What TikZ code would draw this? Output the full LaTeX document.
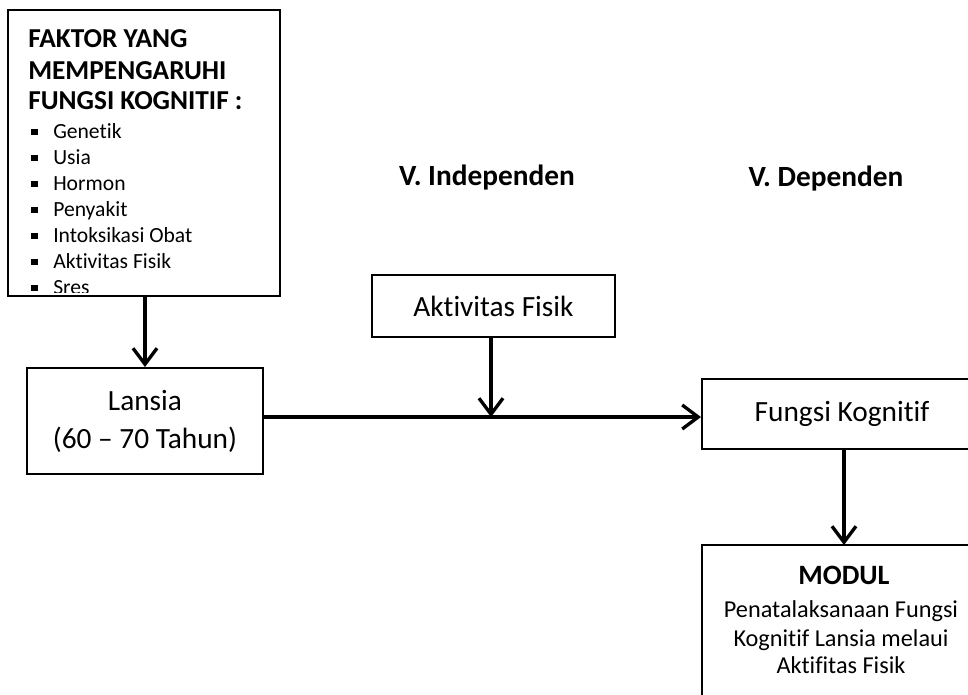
\documentclass[tikz,border=0pt]{standalone}
\usepackage{fontspec}
\setmainfont{Carlito}[Ligatures={NoCommon}]
\usetikzlibrary{arrows.meta}
\begin{document}
\begin{tikzpicture}[x=0.75pt,y=-0.75pt,
  box/.style={draw, line width=1.5pt, rectangle, inner sep=0pt, align=center},
  conn/.style={line width=2.5pt, -{Straight Barb[length=12pt,width=18pt]}},
  hdr/.style={font=\bfseries\fontsize{20.5}{24}\selectfont, inner sep=0pt, anchor=base west},
  lbl/.style={font=\bfseries\fontsize{22}{26}\selectfont, inner sep=0pt, anchor=base},
  itemtxt/.style={font=\fontsize{16.2}{19}\selectfont, inner sep=0pt, anchor=base west},
  bullet/.style={fill=black, inner sep=0pt, minimum size=4.8pt, rectangle},
  bigtxt/.style={font=\fontsize{22}{28.5}\selectfont},
  modtxt/.style={font=\fontsize{18.2}{21}\selectfont, inner sep=0pt, anchor=base}]
\useasboundingbox (0,0) rectangle (968,694);
\clip (0,0) rectangle (968,694);

% boxes
\node[box, minimum width=204pt, minimum height=214.5pt] (faktor) at (144,153) {};
\node[box, bigtxt, minimum width=177pt, minimum height=79.5pt] (lansia) at (145,421) {Lansia\\(60 – 70 Tahun)};
\node[box, bigtxt, minimum width=182.25pt, minimum height=46.5pt] (akt) at (493.5,306) {Aktivitas Fisik};
\node[box, bigtxt, minimum width=210pt, minimum height=52.5pt] (fungsi) at (842,414) {Fungsi Kognitif};
\node[box, minimum width=210pt, minimum height=150pt] (modul) at (842,645) {};

% factor box contents
\node[hdr] (h1) at (28,47) {FAKTOR YANG};
\node[hdr] (h2) at (28,79.5) {MEMPENGARUHI};
\node[hdr] (h3) at (28,109) {FUNGSI KOGNITIF :};
\begin{scope}
  \clip (10,10) rectangle (278,292.5);
  \foreach \t [count=\i] in {Genetik,Usia,Hormon,Penyakit,Intoksikasi Obat,Aktivitas Fisik,Sres}{
    \node[bullet] (b\i) at (34.5,{138.5+26*(\i-1)-6.6}) {};
    \node[itemtxt] (it\i) at (53,{138.5+26*(\i-1)}) {\t};
  }
\end{scope}

% variable labels
\node[lbl] (vind) at (487,185) {V. Independen};
\node[lbl] (vdep) at (826,186) {V. Dependen};

% modul text
\node[modtxt, font=\bfseries\fontsize{21}{24}\selectfont] (m1) at (844,584) {MODUL};
\node[modtxt] (m2) at (841,617) {Penatalaksanaan Fungsi};
\node[modtxt] (m3) at (841,646) {Kognitif Lansia melaui};
\node[modtxt] (m4) at (841,673) {Aktifitas Fisik};

% connectors
\coordinate (mid) at (491,417);
\draw[conn] (lansia.north |- faktor.south) -- (lansia.north);
\draw[conn] (lansia.east |- mid) -- (fungsi.west |- mid);
\draw[conn] (akt.south -| mid) -- (mid);
\draw[conn] (844,449) -- (844,545);
\end{tikzpicture}
\end{document}
